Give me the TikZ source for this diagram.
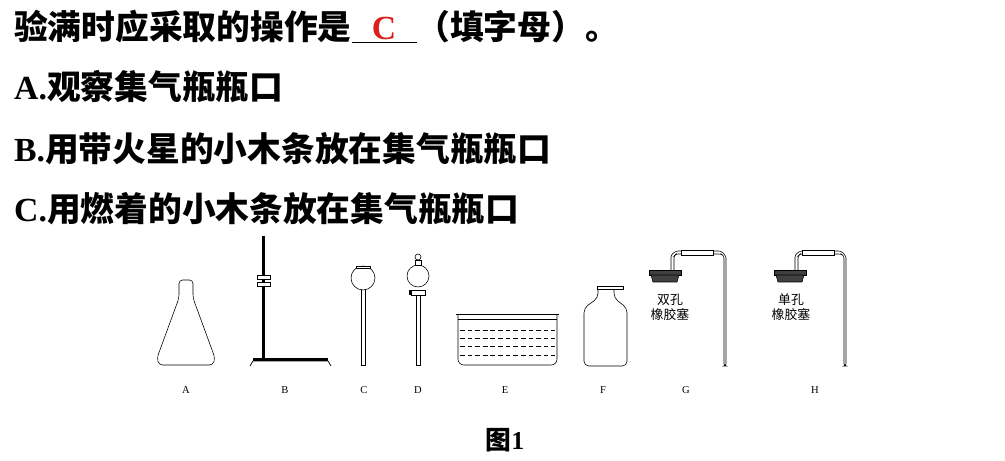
\documentclass[tikz,border=0pt]{standalone}
\usepackage{fontspec}
\setmainfont{Liberation Serif}
\newfontfamily\cjk{Noto Sans CJK SC}
\usetikzlibrary{positioning}
\definecolor{ansred}{RGB}{220,30,30}
\begin{document}
\begin{tikzpicture}[x=0.03cm,y=-0.03cm,
    qline/.style={anchor=west, inner sep=0pt, font=\fontsize{28.8}{30}\selectfont\bfseries},
    glass/.style={draw=black, line width=0.5pt, fill=white},
    tag/.style={font=\fontsize{9}{10}\selectfont, inner sep=0pt},
    cn/.style={font=\cjk\fontsize{11}{13}\selectfont, inner sep=0pt, align=center},
    stopper/.style={draw=black, fill=black!75, line width=0.5pt}]
		\useasboundingbox (0,0) rectangle (1005,461);
		% question text
		\node[qline] (q1) at (14,27) {\cjk 验满时应采取的操作是\underline{\hspace{0.6em}\textcolor{ansred}{\rmfamily C}\hspace{0.6em}}（填字母）。};
		\node[qline] (qa) at (14,87) {A.\cjk 观察集气瓶瓶口};
		\node[qline] (qb) at (14,149) {B.\cjk 用带火星的小木条放在集气瓶瓶口};
		\node[qline] (qc) at (14,209) {C.\cjk 用燃着的小木条放在集气瓶瓶口};
		% A: conical flask
		\draw[glass, rounded corners=3pt] (179,280) -- (193,280) -- (193,298) -- (215,358) -- (213,365) -- (159,365) -- (157,358) -- (179,298) -- cycle;
		% B: iron stand
		\fill (262,236) rectangle (265,360);
		\draw[glass] (257,275) rectangle (270,279);
		\draw[glass] (257,282) rectangle (270,286);
		\fill (253,358) rectangle (328,361);
		\draw[line width=0.6pt] (250,366) -- (253,361) -- (328,361) -- (331,366);
		% C: long-neck funnel
		\draw[glass] (361,288) -- (361,365) -- (365,365) -- (365,288);
		\draw[glass] (363,278) circle[radius=12];
		\draw[glass] (356,266) rectangle (370,268);
		% D: separating funnel
		\draw[glass] (416,294) -- (416,365) -- (420,365) -- (420,294);
		\draw[glass] (418,276) circle[radius=11];
		\draw[glass] (415,260) rectangle (421,265);
		\draw[glass] (418,257) circle[radius=3];
		\draw[glass] (411,290) rectangle (425,295);
		\fill (409,290) rectangle (412,295);
		% E: water trough
		\draw[glass, rounded corners=5pt] (458,315) -- (458,365) -- (557,365) -- (557,315);
		\draw[line width=0.8pt] (456,314) -- (559,314);
		\draw (458,319) -- (557,319);
		\foreach \wy in {330,338,346,355}
			\draw[dashed, dash pattern=on 4pt off 2.5pt] (460,\wy) -- (555,\wy);
		% F: gas jar
		\draw[glass, rounded corners=4pt] (598,288) -- (598,298) -- (584,308) -- (584,366) -- (627,366) -- (627,308) -- (614,298) -- (614,288);
		\draw[glass] (597,286) rectangle (623,289);
		% G: two-hole stopper with tube
		\draw[glass, rounded corners=2pt] (671,271) -- (671,255) -- (676,251) -- (721,251) -- (726,256) -- (726,366) -- (724,366) -- (724,256) -- (721,254) -- (676,254) -- (674,256) -- (674,271);
		\draw[glass] (681,250) rectangle (713,255);
		\draw[stopper] (649,270) rectangle (681,275);
		\draw[stopper] (651,275) -- (679,275) -- (677,282) -- (653,282) -- cycle;
		\node[cn] (g) at (670,307) {双孔\\橡胶塞};
		% H: one-hole stopper with tube
		\draw[glass, rounded corners=2pt] (795,271) -- (795,255) -- (800,251) -- (841,251) -- (846,256) -- (846,366) -- (844,366) -- (844,256) -- (841,254) -- (800,254) -- (798,256) -- (798,271);
		\draw[glass] (802,250) rectangle (834,255);
		\draw[stopper] (774,270) rectangle (806,275);
		\draw[stopper] (776,275) -- (804,275) -- (802,282) -- (778,282) -- cycle;
		\node[cn] (h) at (791,307) {单孔\\橡胶塞};
		% labels
		\foreach \lx/\lt in {186/A,285/B,364/C,418/D,505/E,603/F,686/G,815/H}
			\node[tag] (l\lt) at (\lx,390) {\lt};
		\node[font=\fontsize{22}{24}\selectfont\bfseries, inner sep=0pt] (fig) at (505,440) {\cjk 图\rmfamily 1};
\end{tikzpicture}
\end{document}
